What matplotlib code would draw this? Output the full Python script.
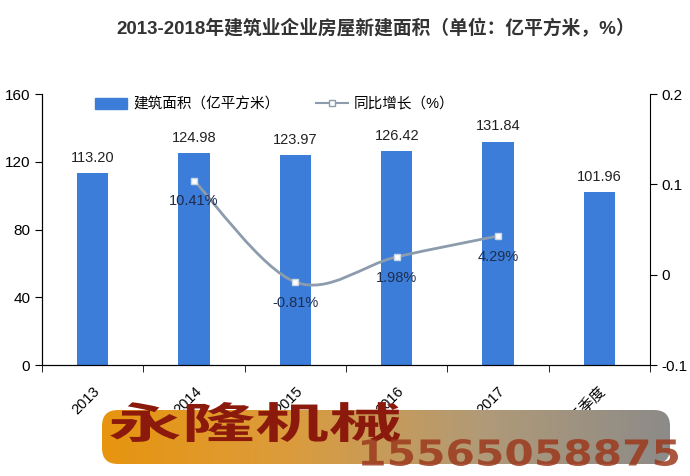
import numpy as np
import matplotlib.pyplot as plt
from matplotlib.path import Path
from matplotlib.patches import PathPatch, FancyBboxPatch
from matplotlib.lines import Line2D
from matplotlib.textpath import TextPath
from matplotlib.font_manager import FontProperties
from matplotlib.transforms import Affine2D, IdentityTransform
import matplotlib.colors as mcolors

plt.rcParams['font.family'] = ['Liberation Sans', 'Noto Sans CJK SC', 'DejaVu Sans']

# data
years = ['2013', '2014', '2015', '2016', '2017', '2018前三季度']
area = [113.20, 124.98, 123.97, 126.42, 131.84, 101.96]
growth_years = ['2014', '2015', '2016', '2017']
growth = [0.1041, -0.0081, 0.0198, 0.0429]
growth_labels = ['10.41%', '-0.81%', '1.98%', '4.29%']

bar_color = '#3b7dd8'
line_color = '#8c9cad'

fig = plt.figure(figsize=(6.9, 4.76), dpi=100)
ax = fig.add_axes([0.061, 0.233, 0.881, 0.5695])
x = np.arange(len(years))

ax.bar(x, area, width=0.31, color=bar_color, zorder=2)
for xi, v in zip(x, area):
    ax.annotate(f'{v:.2f}', (xi, v), xytext=(0, 6), textcoords='offset points',
                ha='center', va='bottom', fontsize=10.5, color='#222222')

ax.set_xlim(-0.5, len(years) - 0.5)
ax.set_ylim(0, 160)
ax.set_yticks([0, 40, 80, 120, 160])
ax.set_xticks(x)
ax.set_xticklabels(years, rotation=45, ha='right', rotation_mode='anchor')
ax.set_xticks(np.arange(-0.5, len(years)), minor=True)
ax.tick_params(axis='x', which='major', length=0, pad=14, labelsize=10.5)
ax.tick_params(axis='x', which='minor', length=5, direction='out')
ax.tick_params(axis='y', length=5, direction='out', labelsize=11)
ax.spines['top'].set_visible(False)
ax.spines['right'].set_visible(False)

ax2 = ax.twinx()
ax2.set_ylim(-0.1, 0.2)
ax2.set_yticks([-0.1, 0, 0.1, 0.2])
ax2.set_yticklabels(['-0.1', '0', '0.1', '0.2'])
ax2.tick_params(axis='y', length=5, direction='out', labelsize=11)
ax2.spines['top'].set_visible(False)

# smoothed line through the growth points
gx = np.array([years.index(y) for y in growth_years], dtype=float)
gy = np.array(growth)
pts = np.column_stack([gx, gy])
ext = np.vstack([pts[0], pts, pts[-1]])
verts = [tuple(pts[0])]
codes = [Path.MOVETO]
for i in range(len(pts) - 1):
    p0, p1, p2, p3 = ext[i], ext[i + 1], ext[i + 2], ext[i + 3]
    c1 = p1 + (p2 - p0) / 6
    c2 = p2 - (p3 - p1) / 6
    verts += [tuple(c1), tuple(c2), tuple(p2)]
    codes += [Path.CURVE4] * 3
ax2.add_patch(PathPatch(Path(verts, codes), fill=False, edgecolor=line_color, lw=2, zorder=3))
ax2.plot(gx, gy, ls='none', marker='s', ms=5, mfc='white', mec='#c9d6e3', zorder=4)
for xi, v, lab in zip(gx, gy, growth_labels):
    ax2.annotate(lab, (xi, v), xytext=(0, -15), textcoords='offset points',
                 ha='center', va='center', fontsize=10.5, color='#1f2d4f', zorder=5)

handles = [plt.Rectangle((0, 0), 1, 1, color=bar_color),
           Line2D([], [], color=line_color, lw=1.5, marker='s', ms=5, mfc='white', mec=line_color)]
ax2.legend(handles, ['建筑面积（亿平方米）', '同比增长（%）'], loc='upper center',
           bbox_to_anchor=(0.383, 1.035), ncol=2, frameon=False, fontsize=10.5,
           handlelength=2.2, handleheight=0.8, columnspacing=2.5, handletextpad=0.4)

fig.text(0.545, 0.94, '2013-2018年建筑业企业房屋新建面积（单位：亿平方米，%）',
         ha='center', va='center', fontsize=13.5, fontweight='bold', color='#333333')

# overlay banner (pixel units inside its own axes)
bx0, bx1, by0, by1 = 90, 682, 476 - 472, 476 - 398
bw, bh = bx1 - bx0, by1 - by0
bax = fig.add_axes([bx0 / 690, by0 / 476, bw / 690, bh / 476])
bax.set_xlim(0, bw)
bax.set_ylim(0, bh)
bax.axis('off')
cmap = mcolors.LinearSegmentedColormap.from_list('b', ['#e8940c', '#dc9c3c', '#b09a78', '#8a8a8a'])
grad = np.linspace(0, 1, 256).reshape(1, -1)
im = bax.imshow(grad, cmap=cmap, extent=[0, bw, 0, bh], aspect='auto')
box = FancyBboxPatch((12, 8), bw - 24, bh - 20, boxstyle='round,pad=0,rounding_size=16',
                     facecolor='none', edgecolor='none')
bax.add_patch(box)
im.set_clip_path(box)

fp1 = FontProperties(family='Noto Sans CJK SC', weight='black')
tp1 = TextPath((0, 0), '永隆机械', size=40, prop=fp1)
e1 = tp1.get_extents()
tr1 = Affine2D().translate(-e1.x0, -e1.y0).scale(290 / e1.width, 40 / e1.height).translate(110, 476 - 442)
fig.patches.append(PathPatch(tp1, transform=tr1 + IdentityTransform(), facecolor='#8b1a0c',
                             edgecolor='none', figure=fig))

fp2 = FontProperties(family='DejaVu Sans', weight='bold')
tp2 = TextPath((0, 0), '15565058875', size=30, prop=fp2)
e2 = tp2.get_extents()
tr2 = Affine2D().translate(-e2.x0, -e2.y0).scale(316 / e2.width, 27 / e2.height).translate(362, 476 - 466)
fig.patches.append(PathPatch(tp2, transform=tr2 + IdentityTransform(), facecolor='#9c3a1e',
                             edgecolor='none', alpha=0.85, figure=fig))

fig.savefig('out.png', dpi=100)
